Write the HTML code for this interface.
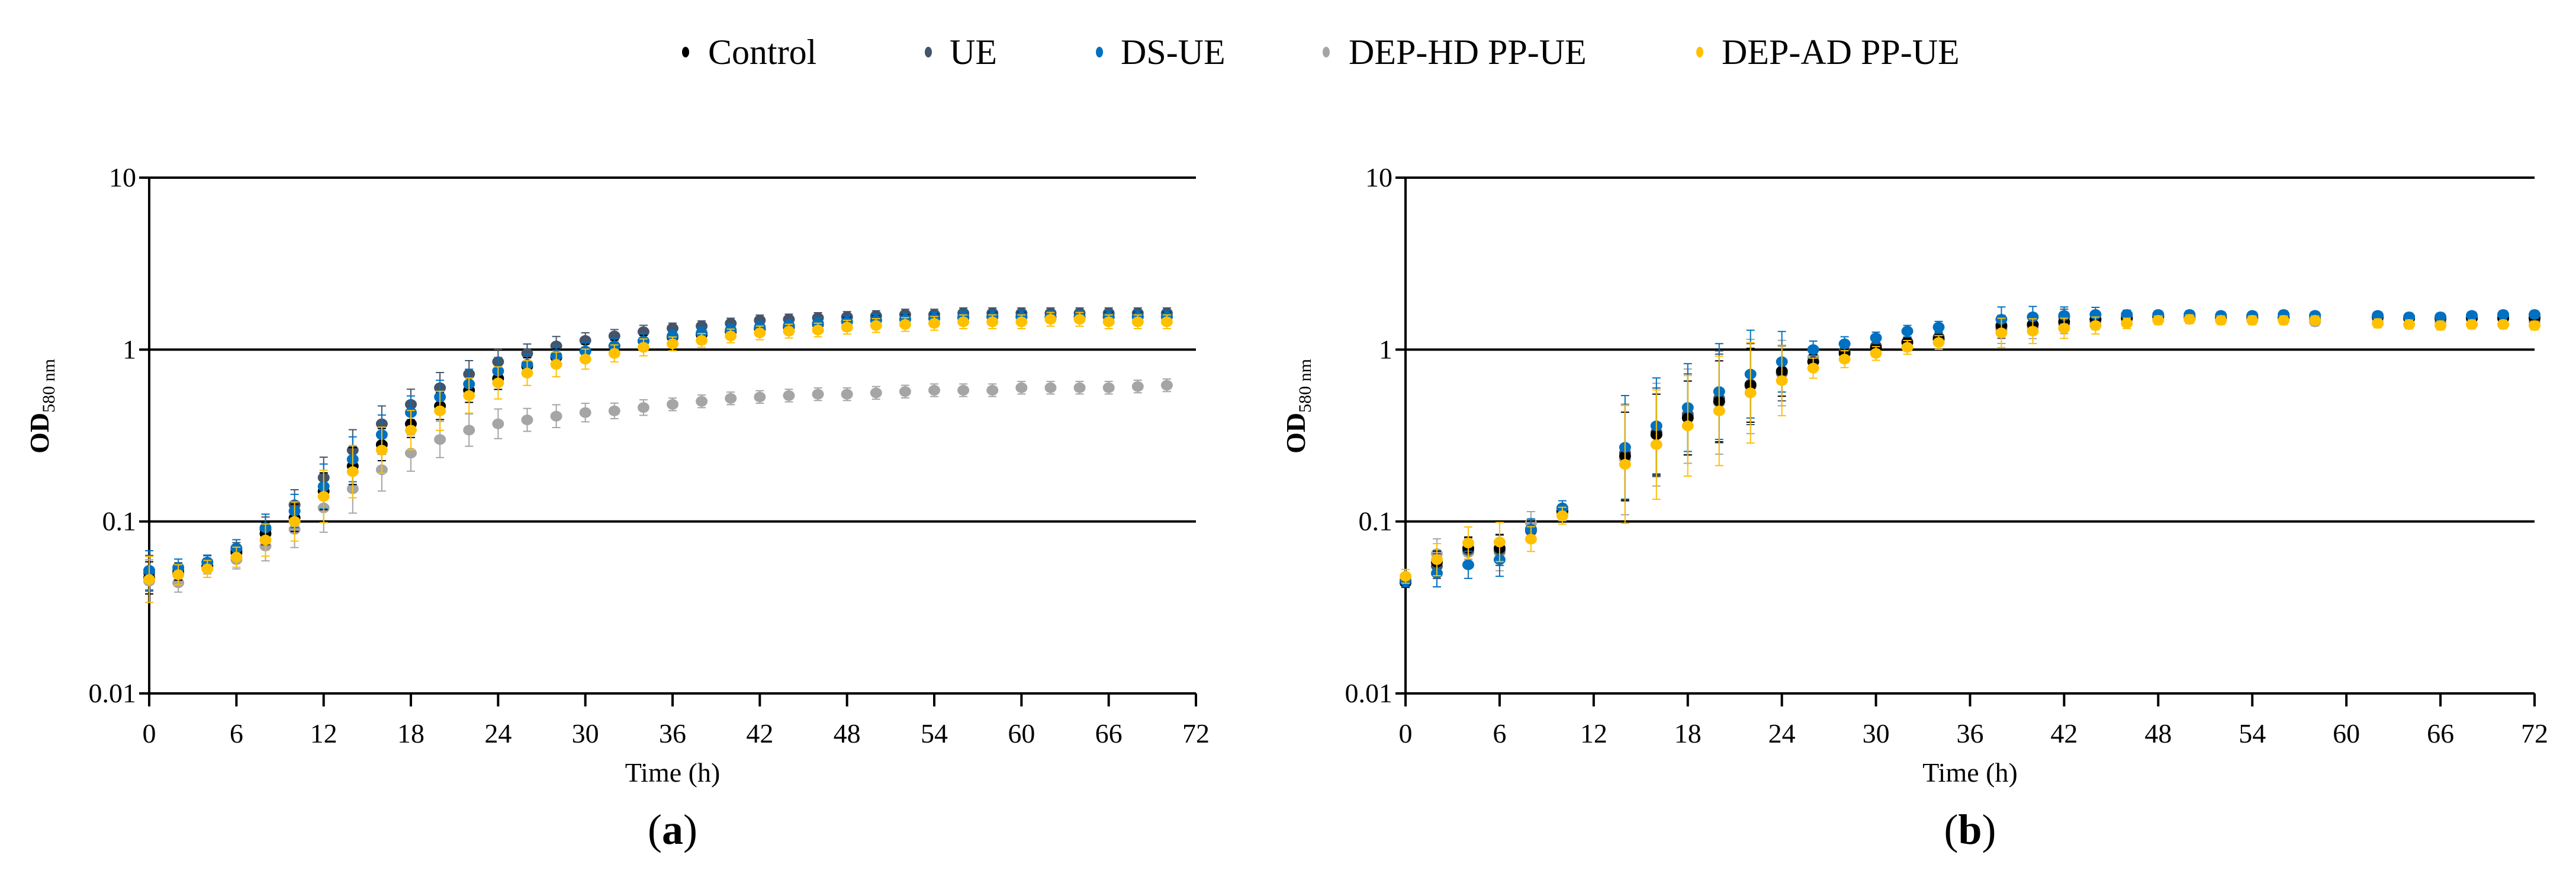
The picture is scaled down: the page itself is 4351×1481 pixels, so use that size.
<!DOCTYPE html>
<html><head><meta charset="utf-8"><style>
html,body{margin:0;padding:0;background:#fff;}
svg{display:block;font-family:"Liberation Serif",serif;}
</style></head><body>
<svg id="fig" width="4351" height="1481" viewBox="0 0 4351 1481" xmlns="http://www.w3.org/2000/svg">
<rect width="4351" height="1481" fill="#fff"/>
<g id="legend" font-size="60">
  <g><ellipse cx="1158" cy="88" rx="6" ry="9" fill="#000"/><text x="1196" y="108">Control</text></g>
  <g><ellipse cx="1568" cy="88" rx="6" ry="9" fill="#44546A"/><text x="1604" y="108">UE</text></g>
  <g><ellipse cx="1857" cy="88" rx="6" ry="9" fill="#0070C0"/><text x="1893" y="108">DS-UE</text></g>
  <g><ellipse cx="2240" cy="88" rx="6" ry="9" fill="#A5A5A5"/><text x="2278" y="108">DEP-HD PP-UE</text></g>
  <g><ellipse cx="2871" cy="88" rx="6" ry="9" fill="#FFC000"/><text x="2908" y="108">DEP-AD PP-UE</text></g>
</g>
<g id="chartA"></g>
<g id="chartB"></g>
</svg>
<script>
const seriesNames = ["Control","UE","DS-UE","DEP-HD PP-UE","DEP-AD PP-UE"];
const xTicks = [0,6,12,18,24,30,36,42,48,54,60,66,72];
const yTicks = [0.01,0.1,1,10];
const yTickLabels = ["0.01","0.1","1","10"];

const timesA = [0,2,4,6,8,10,12,14,16,18,20,22,24,26,28,30,32,34,36,38,40,42,44,46,48,50,52,54,56,58,60,62,64,66,68,70];
const controlA = [0.047,0.05,0.055,0.066,0.085,0.105,0.15,0.21,0.28,0.37,0.47,0.58,0.68,0.8,0.9,0.98,1.05,1.12,1.18,1.22,1.27,1.32,1.35,1.4,1.45,1.48,1.5,1.52,1.53,1.55,1.55,1.55,1.55,1.55,1.55,1.55];
const ueA = [0.05,0.052,0.058,0.068,0.09,0.125,0.18,0.26,0.37,0.48,0.6,0.72,0.85,0.95,1.05,1.13,1.2,1.27,1.33,1.37,1.42,1.48,1.5,1.53,1.55,1.57,1.6,1.6,1.63,1.63,1.63,1.63,1.63,1.63,1.63,1.63];
const dsueA = [0.052,0.054,0.058,0.07,0.092,0.115,0.16,0.23,0.32,0.43,0.53,0.63,0.75,0.82,0.92,0.98,1.05,1.12,1.2,1.25,1.3,1.35,1.38,1.42,1.45,1.48,1.5,1.52,1.55,1.55,1.55,1.55,1.55,1.55,1.55,1.55];
const dephdA = [0.045,0.044,0.055,0.06,0.072,0.09,0.12,0.155,0.2,0.25,0.3,0.34,0.37,0.39,0.41,0.43,0.44,0.46,0.48,0.5,0.52,0.53,0.54,0.55,0.55,0.56,0.57,0.58,0.58,0.58,0.6,0.6,0.6,0.6,0.61,0.62];
const depadA = [0.046,0.049,0.053,0.062,0.078,0.1,0.14,0.195,0.26,0.34,0.44,0.54,0.64,0.73,0.82,0.88,0.95,1.03,1.08,1.13,1.2,1.25,1.28,1.3,1.35,1.38,1.4,1.42,1.45,1.45,1.45,1.5,1.5,1.45,1.45,1.45];
const errA = [0.3,0.12,0.1,0.12,0.2,0.25,0.35,0.35,0.3,0.25,0.25,0.22,0.2,0.15,0.15,0.12,0.1,0.1,0.08,0.08,0.08,0.08,0.08,0.08,0.08,0.08,0.08,0.08,0.08,0.08,0.08,0.08,0.08,0.08,0.08,0.08];

const timesB = [0,2,4,6,8,10,14,16,18,20,22,24,26,28,30,32,34,38,40,42,44,46,48,50,52,54,56,58,62,64,66,68,70,72];
const controlB = [0.044,0.058,0.07,0.07,0.09,0.115,0.24,0.32,0.4,0.5,0.62,0.75,0.85,0.95,1.02,1.1,1.15,1.38,1.4,1.45,1.5,1.52,1.55,1.52,1.52,1.52,1.52,1.5,1.55,1.52,1.52,1.52,1.52,1.52];
const ueB = [0.045,0.055,0.068,0.068,0.088,0.115,0.25,0.33,0.42,0.52,0.63,0.73,0.85,0.98,1.05,1.1,1.18,1.35,1.4,1.55,1.5,1.55,1.58,1.55,1.55,1.55,1.55,1.58,1.55,1.52,1.52,1.55,1.55,1.55];
const dsueB = [0.045,0.05,0.056,0.06,0.09,0.12,0.27,0.36,0.46,0.57,0.72,0.85,1.0,1.08,1.17,1.28,1.35,1.5,1.55,1.58,1.6,1.6,1.6,1.6,1.58,1.58,1.6,1.58,1.58,1.55,1.55,1.58,1.6,1.6];
const dephdB = [0.046,0.065,0.066,0.066,0.098,0.112,0.23,0.32,0.41,0.49,0.61,0.73,0.9,0.98,1.02,1.12,1.18,1.3,1.35,1.4,1.45,1.5,1.5,1.5,1.5,1.5,1.5,1.45,1.5,1.4,1.45,1.4,1.4,1.45];
const depadB = [0.048,0.06,0.075,0.076,0.079,0.108,0.215,0.28,0.36,0.44,0.56,0.66,0.78,0.88,0.95,1.03,1.1,1.25,1.28,1.33,1.38,1.42,1.48,1.5,1.48,1.48,1.48,1.48,1.42,1.4,1.38,1.4,1.4,1.38];
const errB = [0.08,0.2,0.2,0.25,0.15,0.1,1.0,0.9,0.8,0.9,0.8,0.5,0.12,0.1,0.08,0.08,0.08,0.18,0.15,0.12,0.1,0.06,0.05,0.05,0.05,0.05,0.05,0.05,0.05,0.05,0.05,0.05,0.05,0.05];

const colors = ["#000000","#44546A","#0070C0","#A5A5A5","#FFC000"];
const drawOrder = [3,1,0,2,4];
const NS = "http://www.w3.org/2000/svg";
function mk(tag, attrs, parent){const e=document.createElementNS(NS,tag);for(const k in attrs)e.setAttribute(k,attrs[k]);parent.appendChild(e);return e;}

function drawChart(g, x0, x1, times, series, err, label, key){
  const yTop=300, yBot=1171;
  const xs = t => x0 + (t/72)*(x1-x0);
  const ys = v => yBot - (Math.log10(v)+2)/3*(yBot-yTop);
  // gridlines
  yTicks.forEach((v,i)=>{
    const l = mk("line",{x1:x0-17,x2:x1,y1:ys(v),y2:ys(v),stroke:"#000","stroke-width":4},g);
    
    
    const t = mk("text",{x:x0-22,y:ys(v)+15,"text-anchor":"end","font-size":46},g);
    t.textContent = yTickLabels[i];
    
    
  });
  const ya = mk("line",{x1:x0,x2:x0,y1:yTop,y2:yBot+22,stroke:"#000","stroke-width":4},g);
  
  
  xTicks.forEach(v=>{
    const l = mk("line",{x1:xs(v),x2:xs(v),y1:yBot,y2:yBot+22,stroke:"#000","stroke-width":4},g);
    
    
    const t = mk("text",{x:xs(v),y:1254,"text-anchor":"middle","font-size":46},g);
    t.textContent = String(v);
    
    
  });
  const xt = mk("text",{x:(x0+x1)/2,y:1320,"text-anchor":"middle","font-size":46},g);
  xt.textContent = "Time (h)";
  
  
  const yt = mk("text",{transform:`translate(${x0-170},686) rotate(-90)`,"text-anchor":"middle","font-size":46,"font-weight":"bold"},g);
  
  
  yt.appendChild(document.createTextNode("OD"));
  const sub = mk("tspan",{"font-size":30,dy:10,"font-weight":"normal"},yt);
  sub.textContent = "580 nm";
  const pl = mk("text",{x:(x0+x1)/2,y:1425,"text-anchor":"middle","font-size":72},g);
  
  
  pl.appendChild(document.createTextNode("("));
  const b = mk("tspan",{"font-weight":"bold"},pl); b.textContent = label;
  pl.appendChild(document.createTextNode(")"));
  drawOrder.forEach(si=>{
    const vals = series[si];
    const sg = mk("g",{},g);
    
    
    times.forEach((t,i)=>{
      const v = vals[i], e = err[i]*(0.8+0.1*si);
      const hi = v*(1+e), lo = v/(1+e);
      const cx = xs(t);
      const eb = mk("path",{d:`M${cx},${ys(hi)}V${ys(lo)}M${cx-7},${ys(hi)}h14M${cx-7},${ys(lo)}h14`,stroke:colors[si],"stroke-width":2,fill:"none"},sg);
      
      
      const d = mk("ellipse",{cx:cx,cy:ys(v),rx:10,ry:9,fill:colors[si]},sg);
      
      
    });
  });
}
drawChart(document.getElementById("chartA"),252,2020,timesA,[controlA,ueA,dsueA,dephdA,depadA],errA,"a","a");
drawChart(document.getElementById("chartB"),2374,4281,timesB,[controlB,ueB,dsueB,dephdB,depadB],errB,"b","b");
</script>
</body></html>
